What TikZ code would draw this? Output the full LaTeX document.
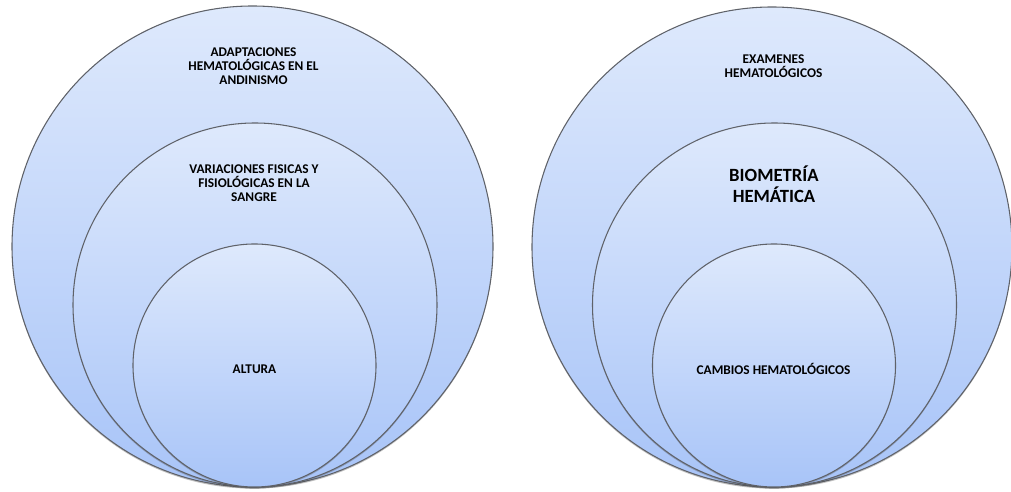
\documentclass[tikz,border=0pt]{standalone}
\usepackage{fontspec}
\setmainfont{Carlito}
\usetikzlibrary{shadows}
\definecolor{ringtop}{RGB}{222,233,252}
\definecolor{ringbot}{RGB}{168,196,248}
\definecolor{ringline}{RGB}{95,98,105}
\begin{document}
\begin{tikzpicture}[x=0.75pt,y=0.75pt,
  ring/.style={draw=ringline, line width=0.8pt, circle, inner sep=0pt,
    top color=ringtop, bottom color=ringbot,
    drop shadow={shadow xshift=0pt, shadow yshift=-1.2pt, opacity=0.35, fill=black!70}},
  lbl/.style={font=\bfseries\fontsize{10}{10.6}\selectfont, align=center},
  biglbl/.style={font=\bfseries\fontsize{14}{15.8}\selectfont, align=center}]
\useasboundingbox (0,0) rectangle (1011,492);

% left set
\node[ring, minimum size=360.75pt] (1a) at (252.5,245.5) {};
\node[ring, minimum size=273pt] (2a) at (255,187) {};
\node[ring, minimum size=182.25pt] (3a) at (254.5,126.5) {};

% right set
\node[ring, minimum size=360pt] (1b) at (772,245) {};
\node[ring, minimum size=273pt] (2b) at (774.5,187) {};
\node[ring, minimum size=182.25pt] (3b) at (774,126.5) {};

\node[lbl] (l1a) at (253.5,426) {ADAPTACIONES\\HEMATOLÓGICAS EN EL\\ANDINISMO};
\node[lbl] (l2a) at (254,309) {VARIACIONES FISICAS Y\\FISIOLÓGICAS EN LA\\SANGRE};
\node[lbl] (l3a) at (254.5,123) {ALTURA};

\node[lbl] (l1b) at (773.5,426) {EXAMENES\\HEMATOLÓGICOS};
\node[biglbl] (l2b) at (774,307.5) {BIOMETRÍA\\HEMÁTICA};
\node[lbl] (l3b) at (773.5,123) {CAMBIOS HEMATOLÓGICOS};

\end{tikzpicture}
\end{document}
